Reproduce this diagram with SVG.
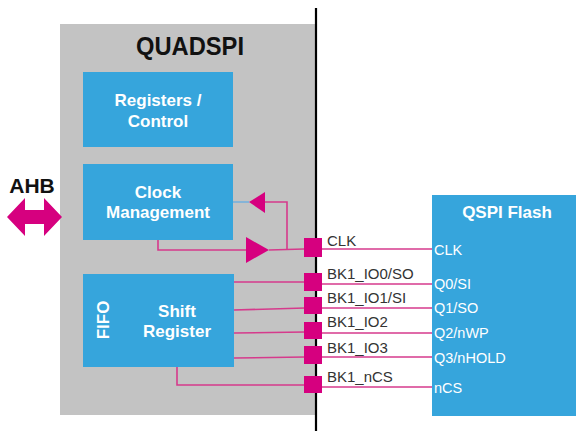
<svg xmlns="http://www.w3.org/2000/svg" width="576" height="431" viewBox="0 0 576 431">
  <style>
    .blk { fill: #36a5dc; }
    .wt { fill: #ffffff; font-family: "Liberation Sans", Arial, sans-serif; font-weight: bold; font-size: 17px; text-anchor: middle; }
    .pin { fill: #ffffff; font-family: "Liberation Sans", Arial, sans-serif; font-size: 14.5px; }
    .sig { fill: #333333; font-family: "Liberation Sans", Arial, sans-serif; font-size: 15px; }
    .wire { fill: none; stroke: #d63a8c; stroke-width: 1.6; }
    .pad { fill: #d6007f; }
    .mag { fill: #d6007f; }
  </style>
  <rect width="576" height="431" fill="#ffffff"/>

  <!-- QUADSPI peripheral -->
  <g id="quadspi">
    <rect x="60" y="24" width="256" height="391" fill="#c3c3c3"/>
    <text x="190" y="55" font-family="Liberation Sans, Arial, sans-serif" font-weight="bold" font-size="25" text-anchor="middle" fill="#111111" textLength="108" lengthAdjust="spacingAndGlyphs">QUADSPI</text>
  </g>

  <g id="registers">
    <rect class="blk" x="83" y="72" width="150" height="75"/>
    <text class="wt" x="158" y="106">Registers /</text>
    <text class="wt" x="158" y="127">Control</text>
  </g>

  <g id="clock">
    <rect class="blk" x="83" y="164" width="150" height="76"/>
    <text class="wt" x="158" y="198">Clock</text>
    <text class="wt" x="158" y="218">Management</text>
  </g>

  <g id="shift">
    <rect class="blk" x="83" y="274" width="151" height="93"/>
    <text class="wt" x="0" y="0" font-size="16.5" transform="translate(109,320) rotate(-90)">FIFO</text>
    <text class="wt" x="177" y="317">Shift</text>
    <text class="wt" x="177" y="337">Register</text>
  </g>

  <!-- AHB bus -->
  <g id="ahb">
    <text x="32" y="193" font-family="Liberation Sans, Arial, sans-serif" font-weight="bold" font-size="21" text-anchor="middle" fill="#111111">AHB</text>
    <polygon class="mag" points="7,217 25,198 25,210 44,210 44,198 62,217 44,236 44,224 25,224 25,236"/>
  </g>

  <!-- QSPI Flash device -->
  <g id="flash">
    <rect class="blk" x="432" y="195" width="144" height="221"/>
    <text class="wt" x="507" y="218">QSPI Flash</text>
    <text class="pin" x="434" y="255">CLK</text>
    <text class="pin" x="434" y="289">Q0/SI</text>
    <text class="pin" x="434" y="313">Q1/SO</text>
    <text class="pin" x="434" y="338">Q2/nWP</text>
    <text class="pin" x="434" y="363">Q3/nHOLD</text>
    <text class="pin" x="434" y="393">nCS</text>
  </g>

  <!-- connectors -->
  <g id="connectors">
    <!-- clock path -->
    <polyline class="wire" points="158,240 158,250 248,250"/>
    <polyline class="wire" points="269,250 304,249"/>
    <polyline class="wire" points="287,250 287,202 265,202"/>
    <line x1="233" y1="202" x2="249" y2="202" stroke="#6aaee0" stroke-width="1.4"/>
    <polygon class="mag" points="246,237 269,250 246,263"/>
    <polygon class="mag" points="265,192 249,202 265,213"/>

    <!-- data lines from shift register -->
    <line class="wire" x1="234" y1="282" x2="305" y2="282"/>
    <line class="wire" x1="234" y1="310" x2="305" y2="308"/>
    <line class="wire" x1="234" y1="333" x2="305" y2="332"/>
    <line class="wire" x1="234" y1="358" x2="305" y2="357"/>
    <polyline class="wire" points="177,367 177,385 305,385"/>

    <!-- pad to flash lines -->
    <line class="wire" x1="320" y1="249" x2="432" y2="249"/>
    <line class="wire" x1="320" y1="284" x2="432" y2="284"/>
    <line class="wire" x1="320" y1="308" x2="432" y2="308"/>
    <line class="wire" x1="320" y1="333" x2="432" y2="333"/>
    <line class="wire" x1="320" y1="357" x2="432" y2="357"/>
    <line class="wire" x1="320" y1="387" x2="432" y2="387"/>

    <!-- boundary -->
    <line x1="316" y1="8" x2="316" y2="431" stroke="#000000" stroke-width="2.2"/>

    <!-- pads -->
    <rect class="pad" x="304" y="238" width="18" height="19"/>
    <rect class="pad" x="304" y="273" width="18" height="18"/>
    <rect class="pad" x="304" y="297" width="18" height="17"/>
    <rect class="pad" x="304" y="322" width="18" height="17"/>
    <rect class="pad" x="304" y="346" width="18" height="18"/>
    <rect class="pad" x="304" y="376" width="18" height="17"/>

    <!-- pad labels -->
    <text class="sig" x="327" y="246">CLK</text>
    <text class="sig" x="327" y="279">BK1_IO0/SO</text>
    <text class="sig" x="327" y="303">BK1_IO1/SI</text>
    <text class="sig" x="327" y="327">BK1_IO2</text>
    <text class="sig" x="327" y="353">BK1_IO3</text>
    <text class="sig" x="327" y="382">BK1_nCS</text>
  </g>
</svg>
